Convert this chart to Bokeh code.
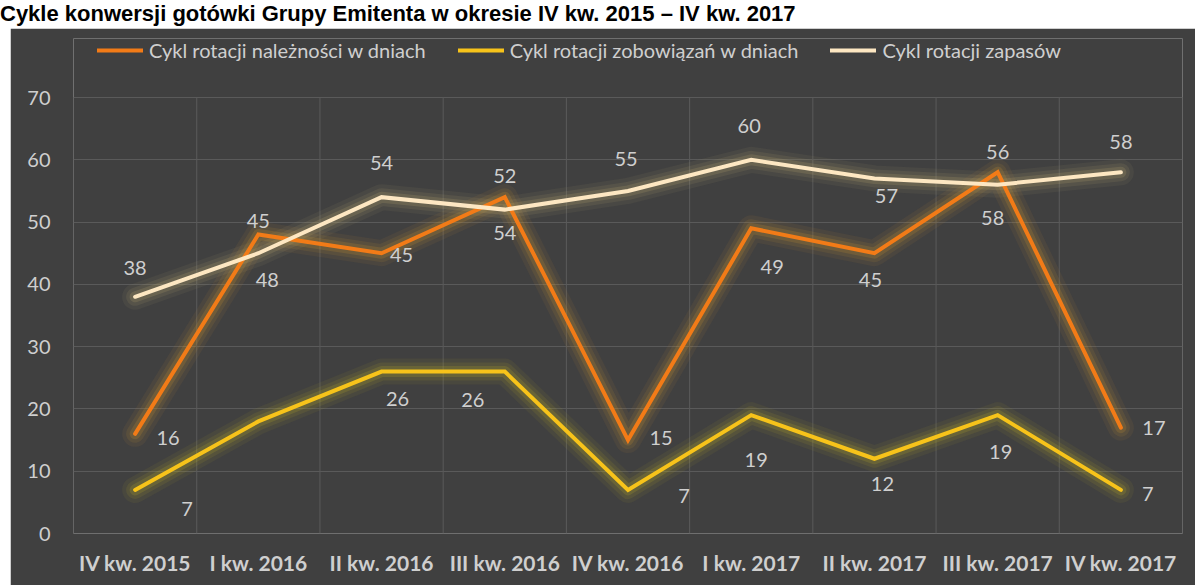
from bokeh.plotting import figure
from bokeh.models import ColumnDataSource, FixedTicker, Legend, LegendItem, Div
from bokeh.layouts import column
from bokeh.core.properties import value
from bokeh.embed import file_html
from bokeh.resources import INLINE

# ---------------- data ----------------
title_text = "Cykle konwersji gotówki Grupy Emitenta w okresie IV kw. 2015 – IV kw. 2017"
quarters = ["IV kw. 2015", "I kw. 2016", "II kw. 2016", "III kw. 2016", "IV kw. 2016",
            "I kw. 2017", "II kw. 2017", "III kw. 2017", "IV kw. 2017"]
series_names = ["Cykl rotacji należności w dniach",
                "Cykl rotacji zobowiązań w dniach",
                "Cykl rotacji zapasów"]
receivables = [16, 48, 45, 54, 15, 49, 45, 58, 17]
payables = [7, 18, 26, 26, 7, 19, 12, 19, 7]
inventory = [38, 45, 54, 52, 55, 60, 57, 56, 58]
payables_label_shown = [True, False, True, True, True, True, True, True, True]
y_ticks = [0, 10, 20, 30, 40, 50, 60, 70]

# ---------------- label placement (screen px, down = positive) ----------------
rec_dx = [33, 9, 20, 0, 33, 21, -4, -5, 33]
rec_dy = [4, 45, 2, 36, -2, 39, 27, 46, 0]
pay_dx = [52, 0, 16, -32, 56, 5, 8, 3, 27]
pay_dy = [19, 0, 27, 28, 6, 45, 25, 37, 4]
inv_dx = [0, 0, 0, 0, -2, -2, 12, 0, 0]
inv_dy = [-29, -32, -34, -34, -32, -34, 18, -33, -30]

# ---------------- styles ----------------
BG = "#404040"
GRID = "#5a5a5a"
TXT = "#cfcfcf"
FONT = "Lato"
colors = ["#f27b17", "#f7c31a", "#fde7c2"]
glows = ["#c89030", "#b8a828", "#b8a470"]

xs = list(range(len(quarters)))

W, H = 1185, 557
# frame is extended above the 70 line so that the legend can sit inside it
y_top = y_ticks[-1] * (H - 10 - 52) / (H - 69 - 52)
p = figure(width=W, height=H, output_backend="svg", toolbar_location=None,
           x_range=(-0.5, len(quarters) - 0.5), y_range=(0, y_top),
           min_border_left=63, min_border_right=13, min_border_top=10, min_border_bottom=52,
           background_fill_color=BG, border_fill_color=BG, outline_line_color=None)
p.margin = (0, 0, 0, 10)

# axes
p.xaxis.ticker = FixedTicker(ticks=xs)
p.xaxis.major_label_overrides = {i: q for i, q in enumerate(quarters)}
p.yaxis.ticker = FixedTicker(ticks=y_ticks)
for ax in (p.xaxis[0], p.yaxis[0]):
    ax.axis_line_color = None
    ax.major_tick_line_color = None
    ax.minor_tick_line_color = None
    ax.major_label_text_color = TXT
    ax.major_label_text_font = FONT
p.xaxis.major_label_text_font_size = "21px"
p.xaxis.major_label_text_font_style = "bold"
p.xaxis.major_label_standoff = 10
p.yaxis.major_label_text_font_size = "20px"
p.yaxis.major_label_standoff = 17

# grids: horizontal at the y ticks, vertical at category boundaries (0..70 only)
p.xgrid.visible = False
p.ygrid.ticker = FixedTicker(ticks=y_ticks)
p.ygrid.grid_line_color = GRID
bounds = [i - 0.5 for i in range(len(quarters) + 1)]
p.segment(x0=bounds, y0=[y_ticks[0]] * len(bounds), x1=bounds, y1=[y_ticks[-1]] * len(bounds),
          line_color=GRID, line_width=1)

series = [receivables, payables, inventory]

# glow
for vals, g in zip(series, glows):
    for w, a in [(26, 0.08), (18, 0.12), (11, 0.2)]:
        p.line(xs, vals, line_width=w, line_color=g, line_alpha=a,
               line_join="round", line_cap="round")

renderers = []
for vals, c in zip(series, colors):
    r = p.line(xs, vals, line_width=4, line_color=c, line_join="miter", line_cap="round")
    renderers.append(r)

# data labels
def add_labels(vals, dx, dy, shown=None):
    if shown is None:
        shown = [True] * len(vals)
    src = ColumnDataSource(dict(
        x=[x for x, s in zip(xs, shown) if s],
        y=[v for v, s in zip(vals, shown) if s],
        t=[str(v) for v, s in zip(vals, shown) if s],
        dx=[d for d, s in zip(dx, shown) if s],
        dy=[d for d, s in zip(dy, shown) if s],
    ))
    p.text(x="x", y="y", text="t", x_offset="dx", y_offset="dy", source=src,
           text_font=value(FONT), text_font_size="20px", text_color=TXT,
           text_align="center", text_baseline="middle")

add_labels(receivables, rec_dx, rec_dy)
add_labels(payables, pay_dx, pay_dy, payables_label_shown)
add_labels(inventory, inv_dx, inv_dy)

legend = Legend(items=[LegendItem(label=n, renderers=[r]) for n, r in zip(series_names, renderers)],
                orientation="horizontal", location=(24, 471),
                background_fill_alpha=0, border_line_color=None,
                label_text_color=TXT, label_text_font=FONT, label_text_font_size="20px",
                glyph_width=46, glyph_height=20, label_height=20, label_standoff=6,
                spacing=32, padding=0, margin=0)
p.add_layout(legend, "center")

title = Div(text=title_text, width=1195, height=28, margin=(0, 0, 0, 0),
            styles={"font-family": "'Liberation Sans', Arial, sans-serif", "font-weight": "bold",
                    "font-size": "22px", "line-height": "28px", "color": "#000000",
                    "white-space": "nowrap"})

layout = column(title, p, spacing=0)
layout.margin = (0, 0, 0, 0)

open("out.html", "w").write(file_html(layout, INLINE))
